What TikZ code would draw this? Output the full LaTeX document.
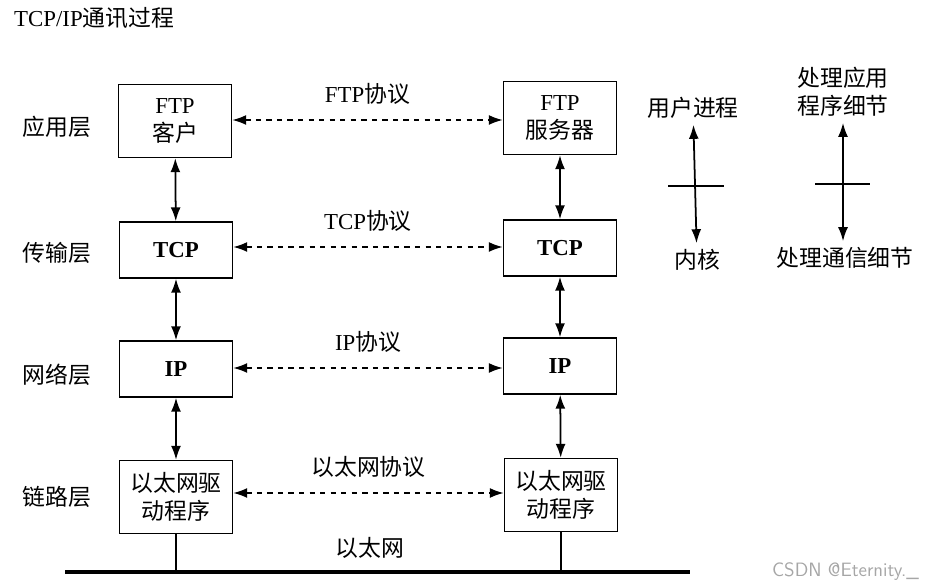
\documentclass[tikz,border=0pt]{standalone}
\usepackage{fontspec}
\setmainfont{Liberation Serif}
\newfontfamily\cjk{Noto Sans CJK SC}
\usetikzlibrary{arrows.meta}

\begin{document}
\begin{tikzpicture}[
    x=0.02cm, y=-0.02cm,
    every node/.style={font=\fontsize{13}{16}\selectfont},
    layer/.style={rectangle, draw, thick, minimum width=2.26cm, minimum height=1.12cm, align=center, inner sep=1pt},
    tall/.style={layer, minimum height=1.46cm},
    peer/.style={{Latex[length=2.8mm,width=2mm]}-{Latex[length=2.8mm,width=2mm]}, line width=1pt, dashed},
    stack/.style={{Latex[length=2.8mm,width=2mm]}-{Latex[length=2.8mm,width=2mm]}, line width=1pt}
]
    \useasboundingbox (0,0) rectangle (930,587);
    \node[anchor=west] (title) at (8,18) {TCP/IP{\cjk 通讯过程}};

    % layer names
    \node (app) at (57,127) {\cjk 应用层};
    \node (trans) at (57,253) {\cjk 传输层};
    \node (net) at (57,375) {\cjk 网络层};
    \node (link) at (57,497) {\cjk 链路层};

    % client side
    \node[tall] (ftpc) at (175,121) {FTP\\{\cjk 客户}};
    \node[layer] (tcpc) at (176,250) {\textbf{TCP}};
    \node[layer] (ipc) at (176,369) {\textbf{IP}};
    \node[tall] (ethc) at (176,497) {\cjk 以太网驱\\\cjk 动程序};

    % server side
    \node[tall] (ftps) at (560,118) {FTP\\{\cjk 服务器}};
    \node[layer] (tcps) at (560,248) {\textbf{TCP}};
    \node[layer] (ips) at (560,366) {\textbf{IP}};
    \node[tall] (eths) at (561,495) {\cjk 以太网驱\\\cjk 动程序};

    \draw[stack] (ftpc) -- (tcpc);
    \draw[stack] (tcpc) -- (ipc);
    \draw[stack] (ipc) -- (ethc);
    \draw[stack] (ftps) -- (tcps);
    \draw[stack] (tcps) -- (ips);
    \draw[stack] (ips) -- (eths);

    % peer protocols
    \draw[peer] (ftpc.east |- 0,120) -- (ftps.west |- 0,120) node[midway, above=5pt] {FTP{\cjk 协议}};
    \draw[peer] (tcpc.east |- 0,247) -- (tcps.west |- 0,247) node[midway, above=5pt] {TCP{\cjk 协议}};
    \draw[peer] (ipc.east |- 0,368) -- (ips.west |- 0,368) node[midway, above=5pt] {IP{\cjk 协议}};
    \draw[peer] (ethc.east |- 0,493) -- (eths.west |- 0,493) node[midway, above=5pt] {\cjk 以太网协议};

    % ethernet bus
    \coordinate (busl) at (65,572);
    \coordinate (busr) at (690,572);
    \draw[line width=1.8pt] (busl) -- (busr);
    \draw[line width=1pt] (ethc) -- (ethc |- busl);
    \draw[line width=1pt] (eths) -- (eths |- busl);
    \node (bus) at (370,548) {\cjk 以太网};

    % legend
    \node (user) at (693,108) {\cjk 用户进程};
    \node (kern) at (697,260) {\cjk 内核};
    \draw[stack] (user) -- (kern);
    \draw[line width=1pt] (668,186) -- (724,186);
    \node[align=center] (appd) at (843,92) {\cjk 处理应用\\\cjk 程序细节};
    \node (comd) at (845,258) {\cjk 处理通信细节};
    \draw[stack] (appd) -- (comd.north -| appd);
    \draw[line width=1pt] (815,184) -- (870,184);

    \node[text=gray!70, font=\fontsize{11}{13}\sffamily, anchor=east] (mark) at (925,572) {CSDN @Eternity.\_};
\end{tikzpicture}
\end{document}
